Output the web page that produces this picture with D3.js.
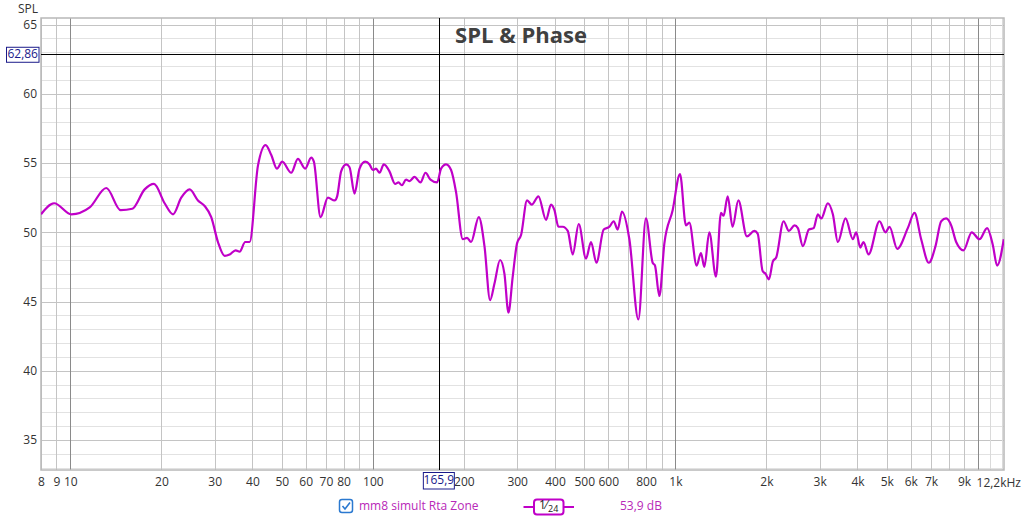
<!DOCTYPE html>
<html>
<head>
<meta charset="utf-8">
<script src="https://cdn.jsdelivr.net/npm/d3@7"></script>
<style>
  body { margin: 0; background: #fff; }
  svg text { font-family: "Segoe UI", "Open Sans", "Noto Sans", sans-serif; }
</style>
</head>
<body>
<script>
const freqHz = [8.0, 8.84, 10.08, 11.59, 13.15, 14.67, 16.03, 17.61, 18.90, 20.50, 21.85, 23.26, 24.80, 26.42, 27.80, 29.23, 30.76, 32.37, 33.62, 35.19, 36.28, 37.86, 39.15, 41.70, 44.22, 46.13, 48.19, 50.17,
  53.72, 56.52, 59.76, 62.55, 63.84, 67.18, 71.02, 74.74, 76.21, 78.57, 81.61, 83.75, 86.98, 90.38, 94.32, 97.52, 100, 102.5, 105.2, 108.7, 113.5, 118.5, 121.6, 124.7, 128.8, 132.2, 137.3, 143.7, 149.3, 155.1, 163.1, 168.1, 174.6, 181.4, 188.4, 198.3, 204.9, 211.2, 224.0, 233.9, 244.1, 252.4, 263.4, 272.3, 280.7, 290.0, 299.7, 309.0,
  323.4, 335.2, 352.7, 373.7, 388.2, 398.4, 410.7, 424.4, 440.8, 457.9, 479.3, 506.6, 526.3, 548.3, 579.6, 605.3, 625.4, 644.7, 666.2, 704.7, 754.6, 799.5, 841.4, 856.3, 885.4, 919.8, 979.7, 1036, 1084, 1112, 1176, 1215, 1247, 1295, 1362, 1415, 1444, 1489, 1546, 1615, 1724, 1824, 1871, 1943,
  1987, 2038, 2101, 2156, 2279, 2373, 2478, 2541, 2640, 2763, 2864, 2959, 3036, 3192, 3316, 3445, 3652, 3861, 3962, 4084, 4188, 4351, 4731, 4952, 5104, 5412, 5866, 6172, 6495, 6883, 7243, 7564, 7858, 8162, 8478, 8964, 9545, 10120, 10730, 11200, 11580, 12180];
const splDb = [51.3, 52.1, 51.3, 51.8, 53.2, 51.6, 51.7, 53.1, 53.5, 52.1, 51.3, 52.5, 53.1, 52.3, 51.9, 51.1, 49.3, 48.3, 48.4, 48.7, 48.6, 49.3, 49.3, 54.8, 56.3, 55.6, 54.6, 55.1,
  54.3, 55.3, 54.6, 55.4, 55.1, 51.1, 52.5, 52.3, 52.6, 54.4, 54.9, 54.7, 52.8, 54.6, 55.1, 54.9, 54.5, 54.6, 54.3, 54.9, 54.4, 53.5, 53.6, 53.4, 53.8, 53.7, 54.0, 53.6, 54.3, 53.8, 53.6, 54.6, 54.9, 54.5, 52.9, 49.5, 49.6, 49.3, 51.1, 49.0, 45.1, 46.3, 48.0, 47.0, 44.2, 46.8, 49.2, 49.8,
  52.3, 52.0, 52.6, 50.9, 52.0, 51.6, 50.4, 50.4, 50.1, 48.4, 50.6, 48.1, 49.3, 47.8, 50.2, 50.4, 50.8, 50.2, 51.5, 49.5, 43.7, 51.0, 47.8, 47.6, 45.4, 49.2, 51.6, 54.2, 50.5, 50.7, 47.6, 48.5, 47.5, 50.0, 46.8, 51.4, 51.2, 52.6, 50.4, 52.3, 49.7, 50.1, 49.9, 47.2,
  47.0, 46.6, 47.9, 48.2, 50.8, 50.1, 50.5, 50.3, 49.0, 50.2, 50.3, 51.3, 51.0, 52.1, 51.3, 49.3, 51.0, 49.5, 50.0, 48.9, 49.3, 48.4, 50.8, 50.0, 50.4, 48.8, 50.3, 51.4, 49.5, 47.8, 49.0, 50.8, 51.0, 50.5, 49.3, 48.7, 50.0, 49.5, 50.3, 49.1, 47.6, 49.5];

const xTicks = [8, 9, 10, 20, 30, 40, 50, 60, 70, 80, 100, 200, 300, 400, 500, 600, 800, 1000, 2000, 3000, 4000, 5000, 6000, 7000, 9000];
const yTicks = [35, 40, 45, 50, 55, 60, 65];
const xDomain = [8, 12200];
const yDomain = [32.83, 65.48];
const cursorHz = 165.9;
const cursorDb = 62.86;
const legendName = "mm8 simult Rta Zone";
const legendValue = "53,9 dB";

const width = 1024, height = 522;
const plotL = 41, plotR = 1004, plotT = 18, plotB = 470;
const traceColor = "#c000c8";

const svg = d3.select("body").append("svg")
  .attr("width", width).attr("height", height);

const x = d3.scaleLog().domain(xDomain).range([plotL, plotR]);
const y = d3.scaleLinear().domain(yDomain).range([plotB, plotT]);

const comma = v => String(v).replace(".", ",");
const fmtHz = f => f >= 1000 ? comma(f / 1000) + "k" : String(f);

///////////////////////
// grid
const grid = svg.append("g");

const minorDb = d3.range(33, 66).filter(v => v % 5 !== 0);
grid.selectAll(".ym").data(minorDb).enter().append("line")
  .attr("x1", plotL).attr("x2", plotR)
  .attr("y1", d => Math.round(y(d)) + 0.5).attr("y2", d => Math.round(y(d)) + 0.5)
  .attr("stroke", "#e2e2e2");

grid.selectAll(".yM").data(yTicks).enter().append("line")
  .attr("x1", plotL).attr("x2", plotR)
  .attr("y1", d => Math.round(y(d)) + 0.5).attr("y2", d => Math.round(y(d)) + 0.5)
  .attr("stroke", "#c4c4c4");

// every integer multiple inside each decade, plus 11k / 12k
let vLines = [];
[1, 10, 100, 1000].forEach(dec => d3.range(1, 10).forEach(m => vLines.push(m * dec)));
vLines = vLines.filter(v => v >= 8).concat([10000, 11000, 12000]);
const isDecade = v => [10, 100, 1000, 10000].includes(v);

grid.selectAll(".xv").data(vLines).enter().append("line")
  .attr("x1", d => Math.round(x(d)) + 0.5).attr("x2", d => Math.round(x(d)) + 0.5)
  .attr("y1", plotT).attr("y2", plotB)
  .attr("stroke", d => isDecade(d) ? "#8a8a8a" : (d > 10000 ? "#dadada" : "#c4c4c4"));

svg.append("rect")
  .attr("x", plotL).attr("y", plotT)
  .attr("width", plotR - plotL).attr("height", plotB - plotT)
  .attr("fill", "none").attr("stroke", "#b8b8b8").attr("stroke-width", 1.5);

///////////////////////
// title
svg.append("text")
  .attr("x", 521).attr("y", 43)
  .attr("text-anchor", "middle")
  .attr("font-size", 22).attr("font-weight", "bold")
  .attr("fill", "#404040")
  .text("SPL & Phase");

///////////////////////
// cursor
svg.append("line")
  .attr("x1", plotL).attr("x2", plotR)
  .attr("y1", Math.round(y(cursorDb)) + 0.5).attr("y2", Math.round(y(cursorDb)) + 0.5)
  .attr("stroke", "#000");
svg.append("line")
  .attr("x1", Math.round(x(cursorHz)) + 0.5).attr("x2", Math.round(x(cursorHz)) + 0.5)
  .attr("y1", plotT).attr("y2", plotB)
  .attr("stroke", "#000");

///////////////////////
// trace
svg.append("clipPath").attr("id", "plot")
  .append("rect").attr("x", plotL).attr("y", plotT)
  .attr("width", plotR - plotL).attr("height", plotB - plotT);

const pts = freqHz.map((f, i) => [f, splDb[i]]);
const line = d3.line()
  .x(d => x(d[0])).y(d => y(d[1]))
  .curve(d3.curveMonotoneX);

svg.append("path")
  .datum(pts)
  .attr("clip-path", "url(#plot)")
  .attr("d", line)
  .attr("fill", "none")
  .attr("stroke", traceColor)
  .attr("stroke-width", 2.2)
  .attr("stroke-linejoin", "round");

///////////////////////
// axes
const yAxis = d3.axisLeft(y).tickValues(yTicks).tickSize(0).tickPadding(4);
svg.append("g")
  .attr("transform", "translate(" + plotL + ",0)")
  .call(yAxis)
  .call(g => g.select(".domain").remove())
  .call(g => g.selectAll("text").attr("font-size", 12).attr("fill", "#333"));

const xAxis = d3.axisBottom(x).tickValues(xTicks).tickFormat(fmtHz).tickSize(0).tickPadding(7);
svg.append("g")
  .attr("transform", "translate(0," + plotB + ")")
  .call(xAxis)
  .call(g => g.select(".domain").remove())
  .call(g => g.selectAll("text").attr("font-size", 12).attr("fill", "#333"));

svg.append("text")
  .attr("x", 1021).attr("y", 487)
  .attr("text-anchor", "end")
  .attr("font-size", 12).attr("fill", "#333")
  .text(comma(xDomain[1] / 1000) + "kHz");

svg.append("text")
  .attr("x", 28).attr("y", 13)
  .attr("text-anchor", "middle")
  .attr("font-size", 12).attr("fill", "#333")
  .text("SPL");

// cursor readouts
const yBox = svg.append("g");
yBox.append("rect")
  .attr("x", 6.5).attr("y", y(cursorDb) - 7)
  .attr("width", 32.5).attr("height", 15)
  .attr("fill", "#fff").attr("stroke", "#1a1a8a");
yBox.append("text")
  .attr("x", 22.7).attr("y", y(cursorDb) + 0.5)
  .attr("text-anchor", "middle").attr("dominant-baseline", "middle")
  .attr("font-size", 12).attr("fill", "#1a1a8a")
  .text(comma(cursorDb));

const xBox = svg.append("g");
xBox.append("rect")
  .attr("x", x(cursorHz) - 16).attr("y", 472.5)
  .attr("width", 31).attr("height", 16.5)
  .attr("fill", "#fff").attr("stroke", "#1a1a8a");
xBox.append("text")
  .attr("x", x(cursorHz) - 0.5).attr("y", 481)
  .attr("text-anchor", "middle").attr("dominant-baseline", "middle")
  .attr("font-size", 12).attr("fill", "#1a1a8a")
  .text(comma(cursorHz));

///////////////////////
// legend
const lg = svg.append("g");
lg.append("rect")
  .attr("x", 339.5).attr("y", 499.5).attr("width", 13).attr("height", 13).attr("rx", 2.5)
  .attr("fill", "#fff").attr("stroke", "#2b79d0").attr("stroke-width", 1.5);
lg.append("path")
  .attr("d", "M342.5,506 L345,509 L350,502.5")
  .attr("fill", "none").attr("stroke", "#2b79d0").attr("stroke-width", 1.6);
lg.append("text")
  .attr("x", 359).attr("y", 507)
  .attr("dominant-baseline", "middle")
  .attr("font-size", 12).attr("fill", "#b828b8")
  .text(legendName);

lg.append("line")
  .attr("x1", 523.5).attr("x2", 574).attr("y1", 507).attr("y2", 507)
  .attr("stroke", traceColor).attr("stroke-width", 2);
lg.append("rect")
  .attr("x", 534).attr("y", 499.5).attr("width", 29.5).attr("height", 15).attr("rx", 3)
  .attr("fill", "#fff").attr("stroke", traceColor).attr("stroke-width", 2);
lg.append("text")
  .attr("x", 539).attr("y", 509)
  .attr("font-size", 12).attr("fill", "#222")
  .text("1⁄");
lg.append("text")
  .attr("x", 548).attr("y", 512)
  .attr("font-size", 9).attr("fill", "#222")
  .text("24");
lg.append("text")
  .attr("x", 620).attr("y", 507)
  .attr("dominant-baseline", "middle")
  .attr("font-size", 12).attr("fill", "#b828b8")
  .text(legendValue);
</script>
</body>
</html>
